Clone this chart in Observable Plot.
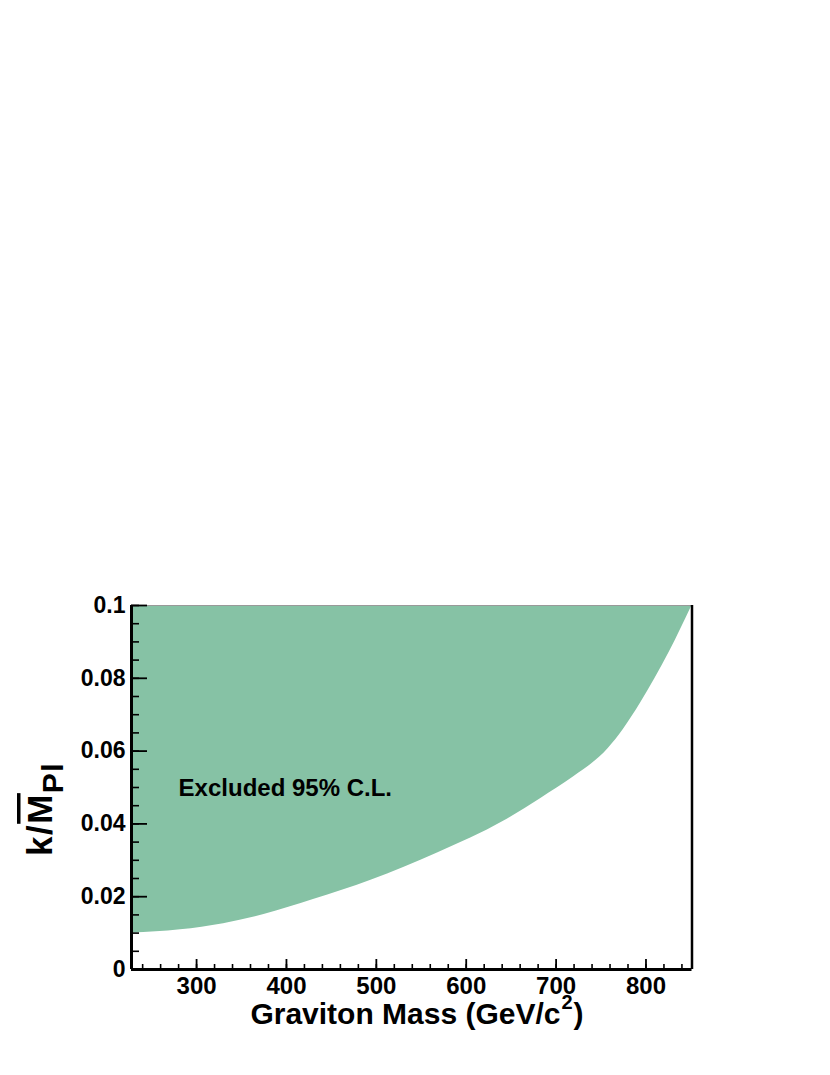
<!DOCTYPE html>
<html>
<head>
<meta charset="utf-8">
<script src="https://cdn.jsdelivr.net/npm/d3@7"></script>
<script src="https://cdn.jsdelivr.net/npm/@observablehq/plot@0.6"></script>
<style>
  html, body { margin: 0; padding: 0; background: #fff; }
  #chart svg { display: block; }
</style>
</head>
<body>
<div id="chart"></div>
<script>
// ---- data ----
const masses = [227.6, 282, 330, 375, 430, 494, 568, 642, 683, 720, 758, 775, 794, 826, 851.2];
const limits = [0.0100, 0.0109, 0.0126, 0.0151, 0.0192, 0.0245, 0.0320, 0.0408, 0.0470, 0.0530, 0.0607, 0.0660, 0.0732, 0.0872, 0.1000];
const upperEdge = 0.1;

const xDomain = [227.6, 851.2];
const yDomain = [0, 0.1];
const xMajorTicks = [300, 400, 500, 600, 700, 800];
const xMinorTicks = d3.range(240, 851, 20);
const yMajorTicks = [0, 0.02, 0.04, 0.06, 0.08, 0.1];
const yMajorLabels = ["0", "0.02", "0.04", "0.06", "0.08", "0.1"];
const yMinorTicks = d3.range(0, 21).map(i => i * 0.005);
const regionLabel = "Excluded 95% C.L.";

const table = masses.map((m, i) => ({mass: m, limit: limits[i]}));

// ---- layout ----
const W = 830, H = 1075;
const mL = 131, mR = 138.5, mT = 605, mB = 106;
const plotW = W - mL - mR, plotH = H - mT - mB;
const fillColor = "#86C2A5";
const font = "Liberation Sans, Arial, Helvetica, sans-serif";

const plot = Plot.plot({
  width: W, height: H,
  marginLeft: mL, marginRight: mR, marginTop: mT, marginBottom: mB,
  style: {fontFamily: font, background: "#fff", overflow: "visible"},
  x: {domain: xDomain},
  y: {domain: yDomain},
  marks: [
    Plot.areaY(table, {x: "mass", y1: "limit", y2: upperEdge, fill: fillColor, curve: "monotone-x"}),
    // frame
    Plot.ruleY([yDomain[1]], {stroke: "#999", strokeWidth: 1}),
    Plot.ruleX([xDomain[1]], {stroke: "#000", strokeWidth: 2.5}),
    // ticks (inside)
    Plot.tickY(yMinorTicks, {y: d => d, stroke: "#000", strokeWidth: 1.6, insetRight: plotW - 8}),
    Plot.tickY(yMajorTicks, {y: d => d, stroke: "#000", strokeWidth: 1.8, insetRight: plotW - 16}),
    Plot.tickX(xMinorTicks, {x: d => d, stroke: "#000", strokeWidth: 1.6, insetTop: plotH - 5}),
    Plot.tickX(xMajorTicks, {x: d => d, stroke: "#000", strokeWidth: 1.8, insetTop: plotH - 10}),
    // axes lines
    Plot.ruleX([xDomain[0]], {stroke: "#000", strokeWidth: 3}),
    Plot.ruleY([yDomain[0]], {stroke: "#000", strokeWidth: 3}),
    // tick labels
    Plot.axisX({ticks: xMajorTicks, tickSize: 0, tickPadding: 7, fontSize: 24, fontWeight: "bold", label: null, fill: "#000"}),
    Plot.axisY({ticks: yMajorTicks, tickSize: 0, tickPadding: 6, fontSize: 23, fontWeight: "bold", label: null, fill: "#000",
                tickFormat: d => yMajorLabels[yMajorTicks.indexOf(d)]}),
    Plot.text([regionLabel], {x: 280, y: 0.0497, text: d => d, textAnchor: "start", lineAnchor: "middle",
                              fontSize: 24, fontWeight: "bold", fill: "#000"})
  ]
});

document.getElementById("chart").appendChild(plot);

// ---- axis titles (rich text with super/subscripts) ----
const svg = d3.select(plot);
const xt = svg.append("text")
  .attr("x", 417).attr("y", 1024)
  .attr("text-anchor", "middle")
  .attr("font-family", font).attr("font-weight", "bold").attr("font-size", 30)
  .attr("fill", "#000");
xt.append("tspan").text("Graviton Mass (GeV/c");
xt.append("tspan").attr("font-size", 20).attr("dx", 1).attr("dy", -15).text("2");
xt.append("tspan").attr("dx", 1).attr("dy", 15).text(")");

const yt = svg.append("text")
  .attr("transform", "translate(52,856) rotate(-90)")
  .attr("text-anchor", "start")
  .attr("font-family", font).attr("font-weight", "bold").attr("font-size", 35)
  .attr("letter-spacing", 1.5)
  .attr("fill", "#000");
yt.append("tspan").text("k/");
yt.append("tspan").style("text-decoration", "overline").text("M");
yt.append("tspan").attr("font-size", 30).attr("dy", 11).text("Pl");
</script>
</body>
</html>
